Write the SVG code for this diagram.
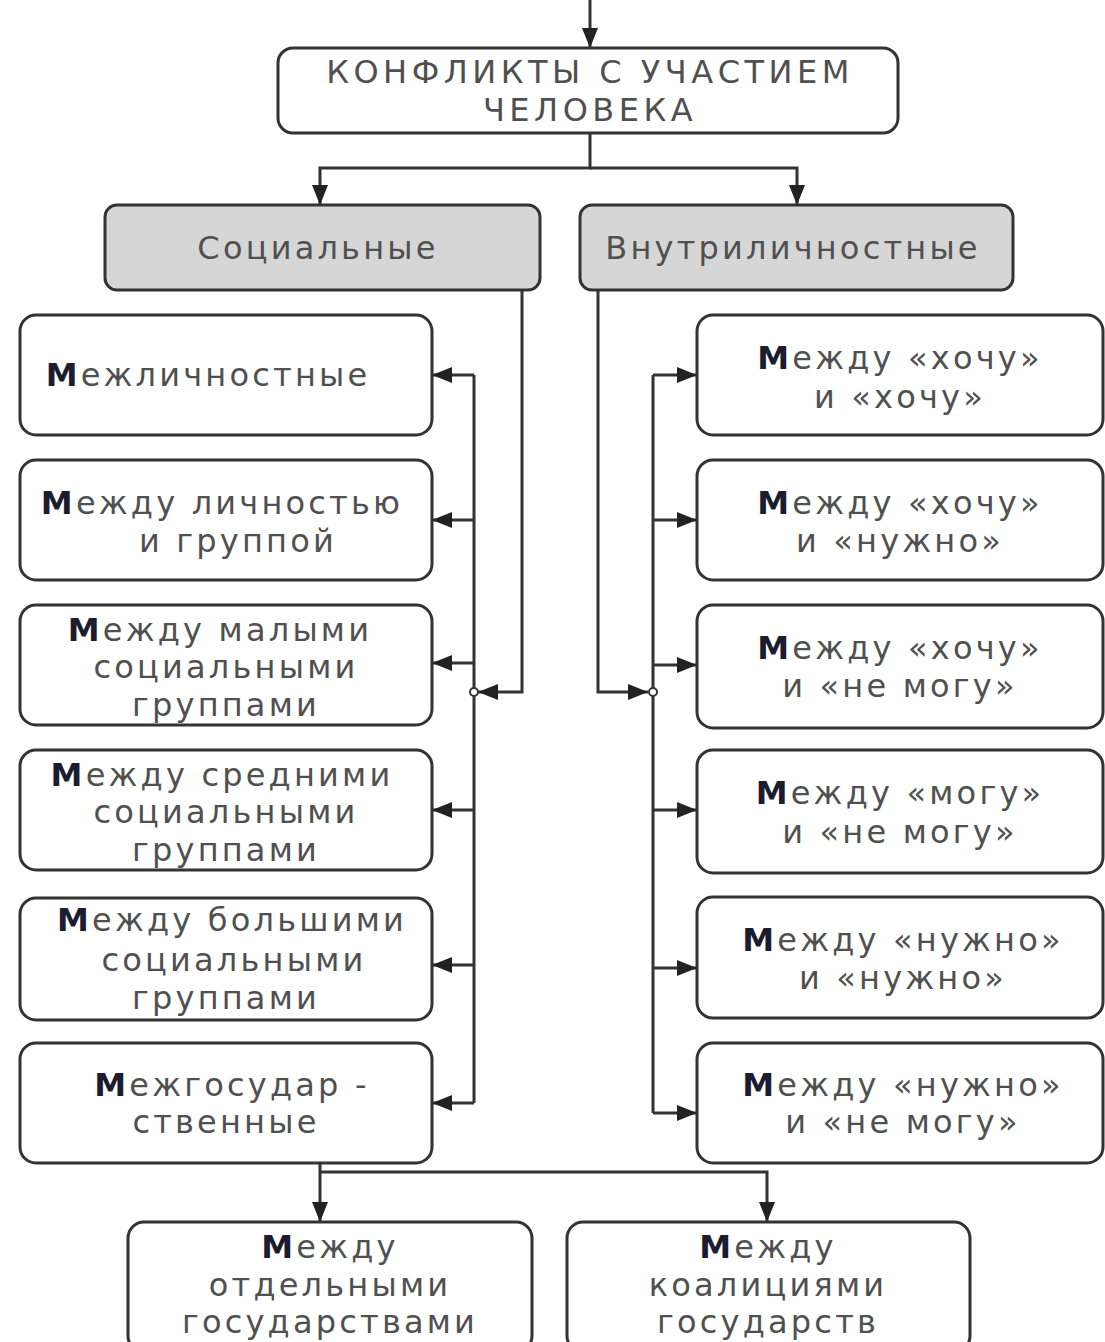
<svg xmlns="http://www.w3.org/2000/svg" width="1105" height="1342" viewBox="0 0 1105 1342">
<style>
.box{fill:#fff;stroke:#333;stroke-width:3}
.gbox{fill:#d6d6d6;stroke:#333;stroke-width:3}
.t{font-family:"DejaVu Sans","Noto Sans",sans-serif;font-size:32px;fill:#505050;text-anchor:middle;letter-spacing:3.2px}
.h{font-size:32px;letter-spacing:4.5px}
.m{fill:#1c1c30;font-weight:bold}
.ln{fill:none;stroke:#333;stroke-width:3}
</style>
<defs>
<marker id="ah" markerWidth="20" markerHeight="16" refX="20" refY="8" orient="auto" markerUnits="userSpaceOnUse">
<path d="M0,0 L20,8 L0,16 Z" fill="#222"/>
</marker>
</defs>
<g id="connectors">
<path class="ln" d="M590,0 V48" marker-end="url(#ah)"/>
<path class="ln" d="M590,133 V168 H320 V205" marker-end="url(#ah)"/>
<path class="ln" d="M590,168 H797 V205" marker-end="url(#ah)"/>
<path class="ln" d="M522,290 V692 H478" marker-end="url(#ah)"/>
<path class="ln" d="M474,375 V1103"/>
<path class="ln" d="M474,375 H432" marker-end="url(#ah)"/>
<path class="ln" d="M474,520 H432" marker-end="url(#ah)"/>
<path class="ln" d="M474,663 H432" marker-end="url(#ah)"/>
<path class="ln" d="M474,810 H432" marker-end="url(#ah)"/>
<path class="ln" d="M474,965 H432" marker-end="url(#ah)"/>
<path class="ln" d="M474,1103 H432" marker-end="url(#ah)"/>
<circle cx="474" cy="692" r="4" fill="#fff" stroke="#333" stroke-width="2"/>
<path class="ln" d="M598,290 V692 H648" marker-end="url(#ah)"/>
<path class="ln" d="M653,375 V1113"/>
<path class="ln" d="M653,375 H697" marker-end="url(#ah)"/>
<path class="ln" d="M653,520 H697" marker-end="url(#ah)"/>
<path class="ln" d="M653,665 H697" marker-end="url(#ah)"/>
<path class="ln" d="M653,810 H697" marker-end="url(#ah)"/>
<path class="ln" d="M653,968 H697" marker-end="url(#ah)"/>
<path class="ln" d="M653,1113 H697" marker-end="url(#ah)"/>
<circle cx="653" cy="692" r="4" fill="#fff" stroke="#333" stroke-width="2"/>
<path class="ln" d="M320,1163 V1222" marker-end="url(#ah)"/>
<path class="ln" d="M320,1172 H767 V1222" marker-end="url(#ah)"/>
</g>
<g id="n-root">
<rect class="box" x="278" y="48" width="620" height="85" rx="15"/>
<text class="t h" x="590" y="83">КОНФЛИКТЫ С УЧАСТИЕМ</text>
<text class="t h" x="590" y="121">ЧЕЛОВЕКА</text>
</g>
<g id="n-social">
<rect class="gbox" x="105" y="205" width="435" height="85" rx="12"/>
<text class="t" x="318" y="259">Социальные</text>
</g>
<g id="n-inner">
<rect class="gbox" x="580" y="205" width="433" height="85" rx="12"/>
<text class="t" x="793" y="259">Внутриличностные</text>
</g>
<g id="n-l1">
<rect class="box" x="20" y="315" width="412" height="120" rx="16"/>
<text class="t" x="208" y="386"><tspan class="m">М</tspan>ежличностные</text>
</g>
<g id="n-l2">
<rect class="box" x="20" y="460" width="412" height="120" rx="16"/>
<text class="t" x="222" y="514"><tspan class="m">М</tspan>ежду личностью</text>
<text class="t" x="238" y="552">и группой</text>
</g>
<g id="n-l3">
<rect class="box" x="20" y="605" width="412" height="120" rx="16"/>
<text class="t" x="220" y="641"><tspan class="m">М</tspan>ежду малыми</text>
<text class="t" x="226" y="678">социальными</text>
<text class="t" x="226" y="716">группами</text>
</g>
<g id="n-l4">
<rect class="box" x="20" y="750" width="412" height="120" rx="16"/>
<text class="t" x="222" y="786"><tspan class="m">М</tspan>ежду средними</text>
<text class="t" x="226" y="823">социальными</text>
<text class="t" x="226" y="861">группами</text>
</g>
<g id="n-l5">
<rect class="box" x="20" y="898" width="412" height="122" rx="16"/>
<text class="t" x="232" y="931"><tspan class="m">М</tspan>ежду большими</text>
<text class="t" x="234" y="971">социальными</text>
<text class="t" x="226" y="1009">группами</text>
</g>
<g id="n-l6">
<rect class="box" x="20" y="1043" width="412" height="120" rx="16"/>
<text class="t" x="232" y="1096"><tspan class="m">М</tspan>ежгосудар -</text>
<text class="t" x="226" y="1133">ственные</text>
</g>
<g id="n-r1">
<rect class="box" x="697" y="315" width="406" height="120" rx="16"/>
<text class="t" x="900" y="369"><tspan class="m">М</tspan>ежду «хочу»</text>
<text class="t" x="900" y="408">и «хочу»</text>
</g>
<g id="n-r2">
<rect class="box" x="697" y="460" width="406" height="120" rx="16"/>
<text class="t" x="900" y="514"><tspan class="m">М</tspan>ежду «хочу»</text>
<text class="t" x="900" y="552">и «нужно»</text>
</g>
<g id="n-r3">
<rect class="box" x="697" y="605" width="406" height="123" rx="16"/>
<text class="t" x="900" y="659"><tspan class="m">М</tspan>ежду «хочу»</text>
<text class="t" x="900" y="697">и «не могу»</text>
</g>
<g id="n-r4">
<rect class="box" x="697" y="750" width="406" height="123" rx="16"/>
<text class="t" x="900" y="804"><tspan class="m">М</tspan>ежду «могу»</text>
<text class="t" x="900" y="843">и «не могу»</text>
</g>
<g id="n-r5">
<rect class="box" x="697" y="897" width="406" height="121" rx="16"/>
<text class="t" x="903" y="951"><tspan class="m">М</tspan>ежду «нужно»</text>
<text class="t" x="903" y="989">и «нужно»</text>
</g>
<g id="n-r6">
<rect class="box" x="697" y="1043" width="406" height="120" rx="16"/>
<text class="t" x="903" y="1096"><tspan class="m">М</tspan>ежду «нужно»</text>
<text class="t" x="903" y="1133">и «не могу»</text>
</g>
<g id="n-b1">
<rect class="box" x="128" y="1222" width="404" height="130" rx="16"/>
<text class="t" x="330" y="1258"><tspan class="m">М</tspan>ежду</text>
<text class="t" x="330" y="1296">отдельными</text>
<text class="t" x="330" y="1333">государствами</text>
</g>
<g id="n-b2">
<rect class="box" x="567" y="1222" width="403" height="130" rx="16"/>
<text class="t" x="768" y="1258"><tspan class="m">М</tspan>ежду</text>
<text class="t" x="768" y="1296">коалициями</text>
<text class="t" x="768" y="1333">государств</text>
</g>
</svg>
